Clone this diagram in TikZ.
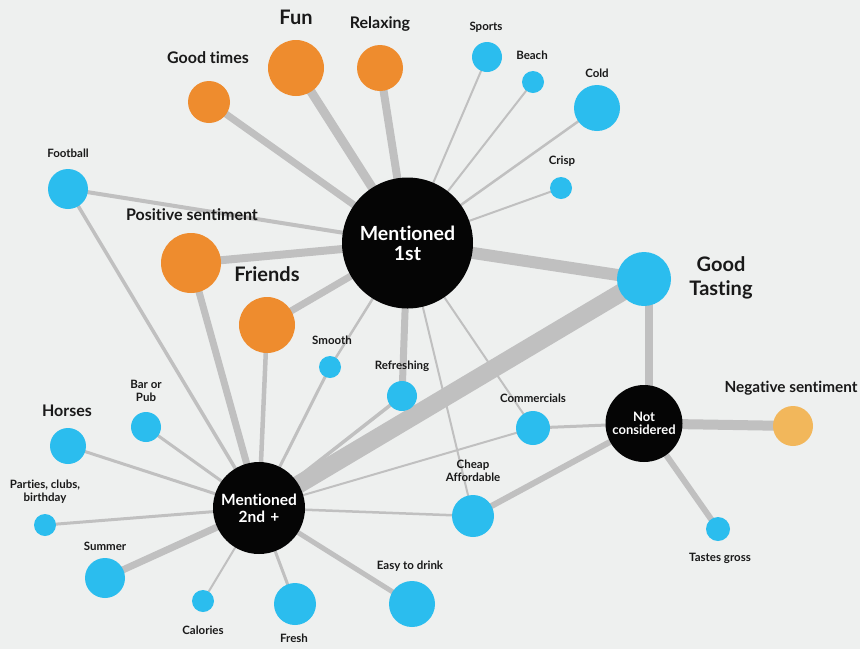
\documentclass[tikz,border=0pt]{standalone}
\usepackage{fontspec}
\setmainfont{Lato}[Ligatures={NoCommon}]
\usetikzlibrary{backgrounds}
\pgfdeclarelayer{edges}
\pgfsetlayers{background,edges,main}
\definecolor{bg}{HTML}{EEF0EF}
\definecolor{linkgray}{HTML}{C0C0C0}
\definecolor{topicblue}{HTML}{2BBDEE}
\definecolor{feelorange}{HTML}{EE8C2E}
\definecolor{negorange}{HTML}{F2B75B}
\definecolor{hubblack}{HTML}{050505}
\tikzset{
  x=1pt, y=-1pt,
  dot/.style={circle, inner sep=0pt, minimum size=2*#1},
  blue/.style={dot=#1, fill=topicblue},
  orange/.style={dot=#1, fill=feelorange},
  hub/.style={dot=#1, fill=hubblack, text=white, align=center},
  lbls/.style={font=\bfseries\fontsize{11.5}{13}\selectfont, align=center, text=black!90},
  lblm/.style={font=\bfseries\fontsize{16}{18}\selectfont, align=center, text=black!90},
  lbll/.style={font=\bfseries\fontsize{20}{24}\selectfont, align=center, text=black!90},
  link/.style={draw=linkgray, line width=#1},
}
\begin{document}
\begin{tikzpicture}
\useasboundingbox (0,0) rectangle (860,649);
\begin{pgfonlayer}{background}
  \fill[bg] (0,0) rectangle (860,649);
\end{pgfonlayer}

% hubs
\node[hub=65.5pt, font=\bfseries\fontsize{19.5}{20}\selectfont] (m1) at (407.5,243) {Mentioned\\1st};
\node[hub=46pt, font=\bfseries\fontsize{15.5}{17}\selectfont] (m2) at (259,508) {Mentioned\\2nd\,\,+};
\node[hub=38.5pt, font=\bfseries\fontsize{13}{13.5}\selectfont] (nc) at (644,423.5) {Not\\considered};

% feelings
\node[orange=21pt] (goodtimes) at (209,102) {};
\node[orange=28pt] (fun) at (296,68) {};
\node[orange=23pt] (relaxing) at (380,68) {};
\node[orange=30pt] (positive) at (191,263) {};
\node[orange=28pt] (friends) at (267,325) {};
\node[dot=20pt, fill=negorange] (negative) at (793,426) {};

% topics
\node[blue=15pt] (sports) at (487,57) {};
\node[blue=11pt] (beach) at (533,82) {};
\node[blue=23pt] (cold) at (597,108) {};
\node[blue=11pt] (crisp) at (561,188) {};
\node[blue=27pt] (tasting) at (644,279) {};
\node[blue=20pt] (football) at (68,189) {};
\node[blue=11pt] (smooth) at (330,367) {};
\node[blue=15pt] (refreshing) at (402,396) {};
\node[blue=15pt] (bar) at (146,427) {};
\node[blue=18pt] (horses) at (68,446) {};
\node[blue=11pt] (parties) at (45,525) {};
\node[blue=20pt] (summer) at (105,578) {};
\node[blue=11pt] (calories) at (203,601) {};
\node[blue=21pt] (fresh) at (295,604) {};
\node[blue=23pt] (easy) at (412,604) {};
\node[blue=17pt] (commercials) at (533,428) {};
\node[blue=21pt] (cheap) at (473,516) {};
\node[blue=12pt] (gross) at (718,529) {};

% labels
\node[lbll] at (296,17) {Fun};
\node[lblm] at (380,24) {Relaxing};
\node[lblm] at (208,58) {Good times};
\node[lbls] at (486,27) {Sports};
\node[lbls] at (532,55) {Beach};
\node[lbls] at (597,73) {Cold};
\node[lbls] at (562,161) {Crisp};
\node[lbls] at (68,153) {Football};
\node[lblm] at (192,215) {Positive sentiment};
\node[lbll] at (267,274) {Friends};
\node[lbll] at (721,278) {Good\\Tasting};
\node[lbls] at (332,340) {Smooth};
\node[lbls] at (402,366) {Refreshing};
\node[lbls] at (146,391) {Bar or\\Pub};
\node[lblm] at (67,411) {Horses};
\node[lbls] at (45,492) {Parties, clubs,\\birthday};
\node[lbls] at (105,546) {Summer};
\node[lbls] at (203,630) {Calories};
\node[lbls] at (294,638) {Fresh};
\node[lbls] at (410,566) {Easy to drink};
\node[lbls] at (533,398) {Commercials};
\node[lbls] at (473,471) {Cheap\\Affordable};
\node[lblm, font=\bfseries\fontsize{15.3}{18}\selectfont] at (791,388) {Negative sentiment};
\node[lbls] at (720,558) {Tastes gross};

% links
\begin{pgfonlayer}{edges}
  % first mention
  \draw[link=7pt] (m1.center) -- (goodtimes.center);
  \draw[link=9pt] (m1.center) -- (fun.center);
  \draw[link=8pt] (m1.center) -- (relaxing.center);
  \draw[link=4pt] (m1.center) -- (football.center);
  \draw[link=8pt] (m1.center) -- (positive.center);
  \draw[link=7pt] (m1.center) -- (friends.center);
  \draw[link=2pt] (m1.center) -- (sports.center);
  \draw[link=2pt] (m1.center) -- (beach.center);
  \draw[link=2.5pt] (m1.center) -- (cold.center);
  \draw[link=2pt] (m1.center) -- (crisp.center);
  \draw[link=12pt] (m1.center) -- (tasting.center);
  \draw[link=2.5pt] (m1.center) -- (smooth.center);
  \draw[link=7pt] (m1.center) -- (refreshing.center);
  \draw[link=2pt] (m1.center) -- (commercials.center);
  \draw[link=2pt] (m1.center) -- (cheap.center);
  % later mention
  \draw[link=3.5pt] (m2.center) -- (football.center);
  \draw[link=7pt] (m2.center) -- (positive.center);
  \draw[link=4.5pt] (m2.center) -- (friends.center);
  \draw[link=3pt] (m2.center) -- (smooth.center);
  \draw[link=3.5pt] (m2.center) -- (refreshing.center);
  \draw[link=18pt] (m2.center) -- (tasting.center);
  \draw[link=2pt] (m2.center) -- (commercials.center);
  \draw[link=2.5pt] (m2.center) -- (cheap.center);
  \draw[link=5pt] (m2.center) -- (easy.center);
  \draw[link=3pt] (m2.center) -- (fresh.center);
  \draw[link=2pt] (m2.center) -- (calories.center);
  \draw[link=7pt] (m2.center) -- (summer.center);
  \draw[link=3pt] (m2.center) -- (parties.center);
  \draw[link=3pt] (m2.center) -- (horses.center);
  \draw[link=3pt] (m2.center) -- (bar.center);
  % not considered
  \draw[link=8pt] ([xshift=5pt]nc.center) -- ([xshift=5pt]tasting.center);
  \draw[link=10pt] (nc.center) -- (negative.center);
  \draw[link=6pt] (nc.center) -- (gross.center);
  \draw[link=3pt] (nc.center) -- (commercials.center);
  \draw[link=6pt] (nc.center) -- (cheap.center);
\end{pgfonlayer}
\end{tikzpicture}
\end{document}
